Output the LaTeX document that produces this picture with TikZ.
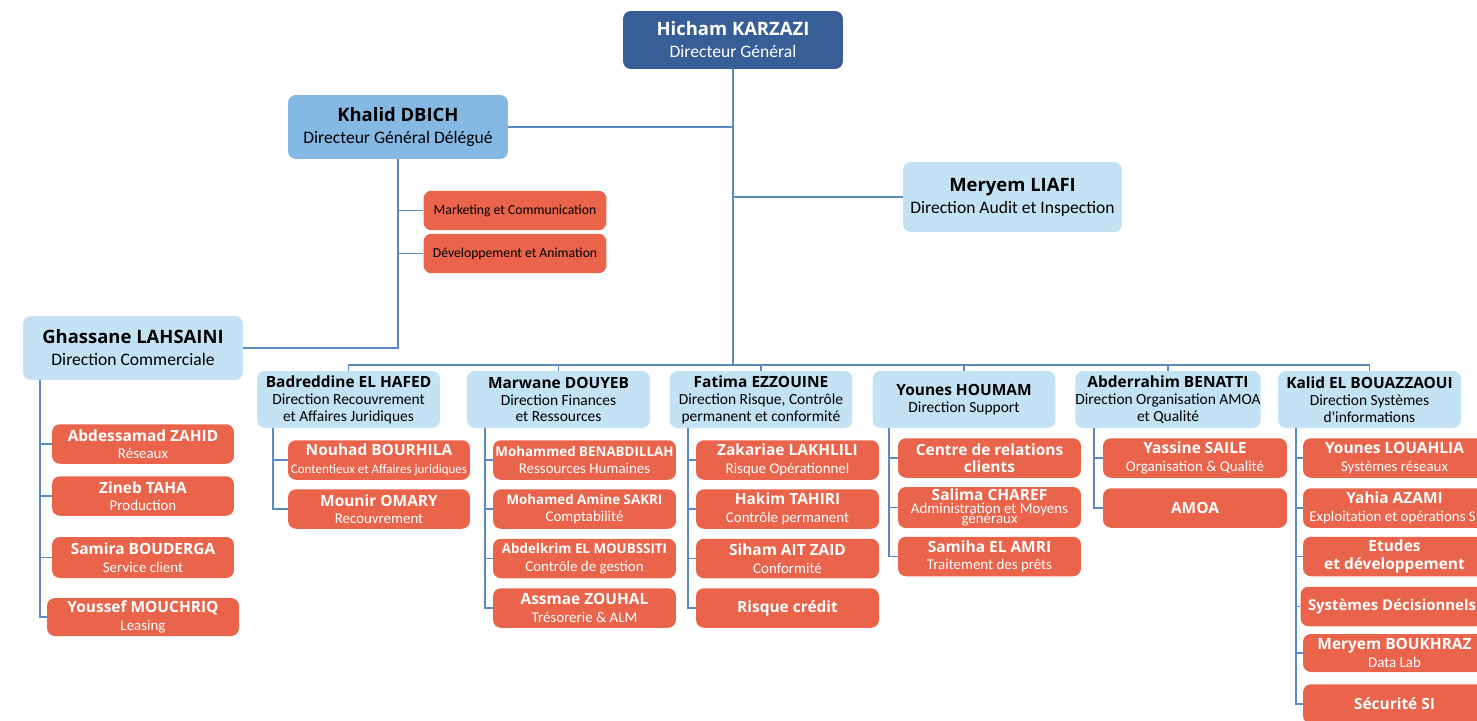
\documentclass[tikz,border=0pt]{standalone}
\usepackage{fontspec}
\setmainfont{Carlito}
\newfontfamily\namefont{Open Sans}
\newcommand{\nm}[1]{{\namefont\bfseries\fontsize{\namesize}{\namesize}\selectfont #1}}
\definecolor{dgblue}{HTML}{375E97}
\definecolor{dgablue}{HTML}{86B8E4}
\definecolor{dirblue}{HTML}{C3E3F5}
\definecolor{unitred}{HTML}{E9644A}
\definecolor{linkblue}{HTML}{5A8AC5}
\begin{document}
\begin{tikzpicture}[x=0.02cm,y=-0.02cm,
  box/.style={rounded corners=4.5pt,inner sep=0pt,align=center},
  head/.style={box,minimum width=4.4cm,minimum height=1.28cm,font=\fontsize{10}{12.5}\selectfont\def\namesize{10.5}},
  dir/.style={box,fill=dirblue,minimum width=3.66cm,minimum height=1.14cm,font=\fontsize{8.8}{9.6}\selectfont\def\namesize{8.8}},
  unit/.style={box,fill=unitred,text=white,minimum width=3.66cm,minimum height=0.79cm,font=\fontsize{8.5}{10}\selectfont\def\namesize{8.8}},
  small/.style={font=\fontsize{8.5}{10}\selectfont\def\namesize{7.6}},
  link/.style={linkblue,line width=1.1pt}]
\useasboundingbox (0,0) rectangle (1477,720);

% direction generale
\node[head,fill=dgblue,text=white,minimum height=1.16cm] (karzazi) at (733,40)
  {\nm{Hicham KARZAZI}\\Directeur Général};
\node[head,fill=dgablue] (dbich) at (398,127)
  {\nm{Khalid DBICH}\\Directeur Général Délégué};
\node[head,fill=dirblue,minimum width=4.38cm,minimum height=1.4cm] (liafi) at (1012.5,197)
  {\nm{Meryem LIAFI}\\Direction Audit et Inspection};
\node[head,fill=dirblue] (lahsaini) at (133,348)
  {\nm{Ghassane LAHSAINI}\\Direction Commerciale};
\node[unit,text=black,font=\fontsize{7.8}{9}\selectfont] (mkt) at (515,210.5) {Marketing et Communication};
\node[unit,text=black,font=\fontsize{7.8}{9}\selectfont] (anim) at (515,253.5) {Développement et Animation};

% directions
\node[dir] (hafed) at (348.5,399.5)
  {\nm{Badreddine EL HAFED}\\Direction Recouvrement\\et Affaires Juridiques};
\node[dir] (douyeb) at (558.5,399.5)
  {\nm{Marwane DOUYEB}\\Direction Finances\\et Ressources};
\node[dir] (ezzouine) at (761,399.5)
  {\nm{Fatima EZZOUINE}\\Direction Risque, Contrôle\\permanent et conformité};
\node[dir] (houmam) at (964,399.5)
  {\nm{Younes HOUMAM}\\Direction Support};
\node[dir] (benatti) at (1168,399.5)
  {\nm{Abderrahim BENATTI}\\Direction Organisation AMOA\\et Qualité};
\node[dir] (bouazzaoui) at (1369.5,399.5)
  {\nm{Kalid EL BOUAZZAOUI}\\Direction Systèmes\\d\textquotesingle informations};

% commercial
\node[unit,minimum width=3.64cm] (zahid) at (143,444) {\nm{Abdessamad ZAHID}\\Réseaux};
\node[unit,minimum width=3.64cm] (taha) at (143,496) {\nm{Zineb TAHA}\\Production};
\node[unit,minimum width=3.64cm,minimum height=0.82cm] (bouderga) at (143,557.5) {\nm{Samira BOUDERGA}\\Service client};
\node[unit,minimum width=3.84cm,minimum height=0.76cm] (mouchriq) at (143,617) {\nm{Youssef MOUCHRIQ}\\Leasing};

% recouvrement
\node[unit,minimum width=3.64cm] (bourhila) at (379,460)
  {\nm{Nouhad BOURHILA}\\{\fontsize{7.4}{10}\selectfont Contentieux et Affaires juridiques}};
\node[unit,minimum width=3.64cm] (omary) at (379,509) {\nm{Mounir OMARY}\\Recouvrement};

% finances
\node[unit,small] (benabdillah) at (584.5,460) {\nm{Mohammed BENABDILLAH}\\Ressources Humaines};
\node[unit,small] (sakri) at (584.5,509) {\nm{Mohamed Amine SAKRI}\\Comptabilité};
\node[unit,small] (moubssiti) at (584.5,558.5) {\nm{Abdelkrim EL MOUBSSITI}\\Contrôle de gestion};
\node[unit] (zouhal) at (584.5,608) {\nm{Assmae ZOUHAL}\\Trésorerie \& ALM};

% risque
\node[unit] (lakhlili) at (787.5,460) {\nm{Zakariae LAKHLILI}\\Risque Opérationnel};
\node[unit] (tahiri) at (787.5,509) {\nm{Hakim TAHIRI}\\Contrôle permanent};
\node[unit] (aitzaid) at (787.5,558.5) {\nm{Siham AIT ZAID}\\Conformité};
\node[unit] (credit) at (787.5,608) {\nm{Risque crédit}};

% support
\node[unit] (crc) at (989.5,458) {\nm{Centre de relations}\\\nm{clients}};
\node[unit,minimum height=0.82cm] (charef) at (989.5,507.5)
  {\nm{Salima CHAREF}\\[-2.6pt]Administration et Moyens\\[-4.4pt]généraux};
\node[unit] (elamri) at (989.5,556.5) {\nm{Samiha EL AMRI}\\Traitement des prêts};

% organisation
\node[unit,minimum width=3.68cm] (saile) at (1195,458) {\nm{Yassine SAILE}\\Organisation \& Qualité};
\node[unit,minimum width=3.68cm] (amoa) at (1195,508) {\nm{AMOA}};

% systemes d'information
\node[unit] (louahlia) at (1394.5,458) {\nm{Younes LOUAHLIA}\\Systèmes réseaux};
\node[unit] (azami) at (1394.5,508) {\nm{Yahia AZAMI}\\Exploitation et opérations SI};
\node[unit] (etudes) at (1394.5,556.5) {\nm{Etudes}\\\nm{et développement}};
\node[unit,small,font=\def\namesize{8.5}] (decision) at (1392,606.5) {\nm{Systèmes Décisionnels}};
\node[unit,minimum height=0.76cm] (boukhraz) at (1394.5,653) {\nm{Meryem BOUKHRAZ}\\Data Lab};
\node[unit] (secu) at (1394.5,704) {\nm{Sécurité SI}};

% liaisons
\coordinate (bus) at (733,365);
\draw[link] (karzazi.south) -- (bus);
\draw[link] (dbich.east) -- (dbich.east -| karzazi.south);
\draw[link] (liafi.west) -- (liafi.west -| karzazi.south);
\draw[link] (dbich.south) |- (lahsaini.east);
\foreach \u in {mkt,anim} \draw[link] (dbich.south) |- (\u.west);
\foreach \d in {hafed,douyeb,ezzouine,houmam,benatti,bouazzaoui}
  \draw[link] (\d.north) |- (bus);

\coordinate (t-lahsaini) at (40,380);
\coordinate (t-hafed) at (273,428);
\coordinate (t-douyeb) at (485,428);
\coordinate (t-ezzouine) at (688,428);
\coordinate (t-houmam) at (889,428);
\coordinate (t-benatti) at (1094,428);
\coordinate (t-bouazzaoui) at (1296,428);
\foreach \u in {zahid,taha,bouderga,mouchriq} \draw[link] (t-lahsaini) |- (\u.west);
\foreach \u in {bourhila,omary} \draw[link] (t-hafed) |- (\u.west);
\foreach \u in {benabdillah,sakri,moubssiti,zouhal} \draw[link] (t-douyeb) |- (\u.west);
\foreach \u in {lakhlili,tahiri,aitzaid,credit} \draw[link] (t-ezzouine) |- (\u.west);
\foreach \u in {crc,charef,elamri} \draw[link] (t-houmam) |- (\u.west);
\foreach \u in {saile,amoa} \draw[link] (t-benatti) |- (\u.west);
\foreach \u in {louahlia,azami,etudes,decision,boukhraz,secu} \draw[link] (t-bouazzaoui) |- (\u.west);
\end{tikzpicture}
\end{document}
